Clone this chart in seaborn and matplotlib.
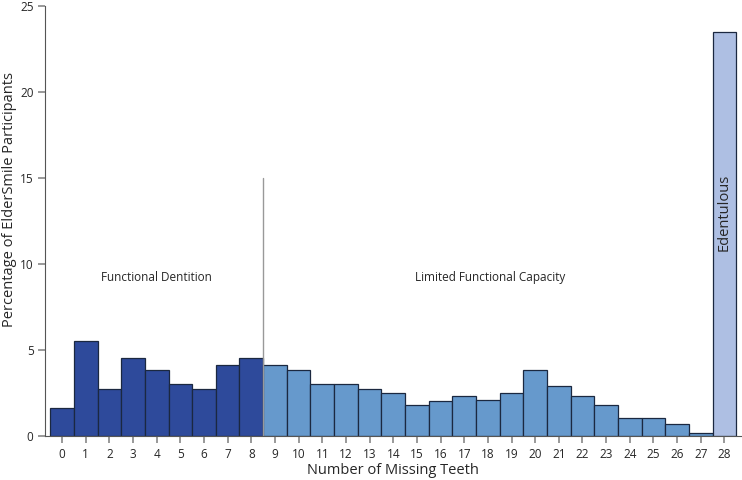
import pandas as pd
import numpy as np
import seaborn as sns
import matplotlib.pyplot as plt

teeth = list(range(29))
percent = [1.6, 5.5, 2.7, 4.5, 3.8, 3.0, 2.7, 4.1, 4.5,
           4.1, 3.8, 3.0, 3.0, 2.7, 2.5, 1.8, 2.0, 2.3, 2.1,
           2.5, 3.8, 2.9, 2.3, 1.8, 1.05, 1.05, 0.7, 0.18, 23.5]
groups = ["Functional Dentition"] * 9 + ["Limited Functional Capacity"] * 19 + ["Edentulous"]

df = pd.DataFrame({"teeth": teeth, "percent": percent, "group": groups})

sns.set_style("ticks")
plt.rcParams['font.family'] = ['Open Sans', 'DejaVu Sans']

fig, ax = plt.subplots(figsize=(7.42, 4.8), dpi=100)
colours = {"Functional Dentition": "#2E4A9B",
           "Limited Functional Capacity": "#6699CC",
           "Edentulous": "#AEBFE3"}
sns.barplot(data=df, x="teeth", y="percent", hue="group", palette=colours,
            dodge=False, width=1.0, edgecolor="#1B2840", linewidth=0.9,
            saturation=1, legend=False, ax=ax)

ax.plot([8.5, 8.5], [0, 15], color="#999999", linewidth=1)
ax.text(4, 9.2, "Functional Dentition", ha="center", va="center", fontsize=8.5)
ax.text(18.1, 9.2, "Limited Functional Capacity", ha="center", va="center", fontsize=8.5)
ax.text(28, 13, "Edentulous", ha="center", va="center", rotation=90, fontsize=10.5)

ax.set_xlim(-0.71, 28.68)
ax.set_ylim(0, 25)
ax.set_yticks([0, 5, 10, 15, 20, 25])
ax.set_xlabel("Number of Missing Teeth", fontsize=10.5, labelpad=2)
ax.set_ylabel("Percentage of ElderSmile Participants", fontsize=10.5)
ax.yaxis.set_label_coords(-0.041, 0.55)
ax.tick_params(axis="both", labelsize=8.5, color="#888888", length=5, width=1.2)
for s in ["top", "right"]:
    ax.spines[s].set_visible(False)
for s in ["left", "bottom"]:
    ax.spines[s].set_color("#555555")

plt.subplots_adjust(left=0.061, right=0.998, bottom=0.092, top=0.988)
plt.savefig("out.png", dpi=100)
